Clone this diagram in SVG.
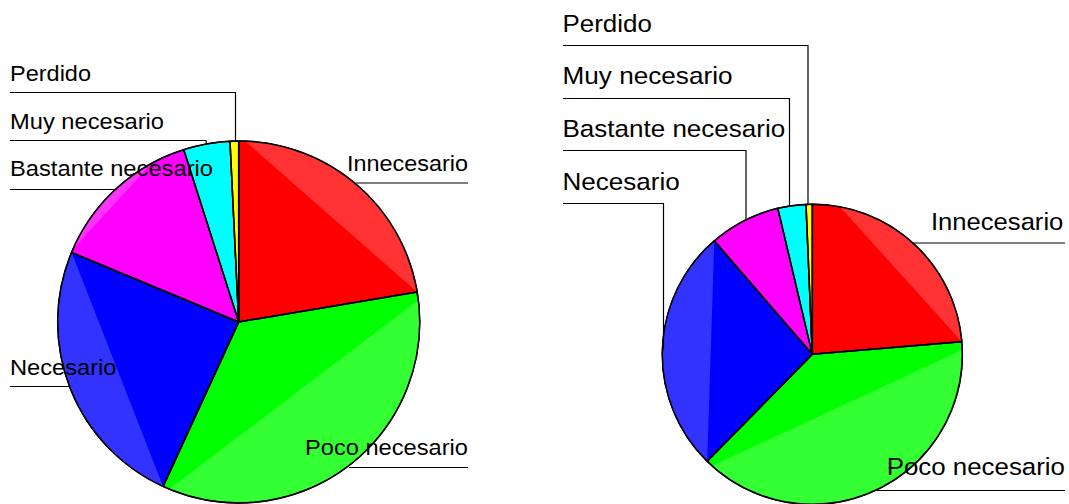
<svg xmlns="http://www.w3.org/2000/svg" width="1069" height="504" viewBox="0 0 1069 504">
<style>
.sl{stroke:#000;stroke-width:1.5;stroke-linejoin:round}
.seg{stroke:none}
.lbl{font-family:"Liberation Sans",Arial,sans-serif;font-size:22.5px;fill:#000}
.lbr{font-family:"Liberation Sans",Arial,sans-serif;font-size:24.8px;fill:#000}
.ld{fill:none;stroke:#000;stroke-width:1.2}
.rim{fill:none;stroke:#000;stroke-width:1.5}
</style>
<rect width="1069" height="504" fill="#fff"/>
<g id="pie-left">
  <g id="L-innecesario">
    <path class="sl" fill="#ff0000" d="M238.7,322 L238.7,141 A181,181 0 0 1 417.2,292.1 Z"/>
    <path class="seg" fill="#ff3333" d="M245,141.1 A181,181 0 0 1 417.2,292.1 Z"/>
  </g>
  <g id="L-poco">
    <path class="sl" fill="#00ff00" d="M238.7,322 L417.2,292.1 A181,181 0 0 1 163.1,486.4 Z"/>
    <path class="seg" fill="#33ff33" d="M418.5,300 A181,181 0 0 1 170,488.5 Z"/>
  </g>
  <g id="L-necesario">
    <path class="sl" fill="#0000ff" d="M238.7,322 L163.1,486.4 A181,181 0 0 1 71.6,252.4 Z"/>
    <path class="seg" fill="#3333ff" d="M163.1,486.4 A181,181 0 0 1 71.6,252.4 Z"/>
  </g>
  <g id="L-bastante">
    <path class="sl" fill="#ff00ff" d="M238.7,322 L71.6,252.4 A181,181 0 0 1 183.7,149.6 Z"/>
    <path class="seg" fill="#ff33ff" d="M73,249 A181,181 0 0 1 150,165 Z"/>
  </g>
  <g id="L-muy">
    <path class="sl" fill="#00ffff" d="M238.7,322 L183.7,149.6 A181,181 0 0 1 230,141.2 Z"/>
  </g>
  <g id="L-perdido">
    <path class="sl" fill="#ffff00" d="M238.7,322 L230,141.2 A181,181 0 0 1 238.7,141 Z"/>
  </g>
  <circle class="rim" cx="238.7" cy="322" r="181"/>
  <path class="sl" fill="none" d="M238.7,141 L238.7,322 L417.2,292.1 M238.7,322 L163.1,486.4 M238.7,322 L71.6,252.4 M238.7,322 L183.7,149.6 M238.7,322 L230,141.2"/>
</g>
<g id="pie-right">
  <g id="R-innecesario">
    <path class="sl" fill="#ff0000" d="M812.3,354.3 L812.3,204.3 A150,150 0 0 1 961.8,341.7 Z"/>
    <path class="seg" fill="#ff3333" d="M840,206.9 A150,150 0 0 1 961.8,341.7 Z"/>
  </g>
  <g id="R-poco">
    <path class="sl" fill="#00ff00" d="M812.3,354.3 L961.8,341.7 A150,150 0 0 1 707.2,461.3 Z"/>
    <path class="seg" fill="#33ff33" d="M962,350 A150,150 0 0 1 712,466 Z"/>
  </g>
  <g id="R-necesario">
    <path class="sl" fill="#0000ff" d="M812.3,354.3 L707.2,461.3 A150,150 0 0 1 714.3,240.8 Z"/>
    <path class="seg" fill="#3333ff" d="M707.2,461.3 A150,150 0 0 1 714.3,240.8 Z"/>
  </g>
  <g id="R-bastante">
    <path class="sl" fill="#ff00ff" d="M812.3,354.3 L714.3,240.8 A150,150 0 0 1 777.8,208.3 Z"/>
  </g>
  <g id="R-muy">
    <path class="sl" fill="#00ffff" d="M812.3,354.3 L777.8,208.3 A150,150 0 0 1 806,204.4 Z"/>
  </g>
  <g id="R-perdido">
    <path class="sl" fill="#ffff00" d="M812.3,354.3 L806,204.4 A150,150 0 0 1 812.3,204.3 Z"/>
  </g>
  <circle class="rim" cx="812.3" cy="354.3" r="150"/>
  <path class="sl" fill="none" d="M812.3,204.3 L812.3,354.3 L961.8,341.7 M812.3,354.3 L707.2,461.3 M812.3,354.3 L714.3,240.8 M812.3,354.3 L777.8,208.3 M812.3,354.3 L806,204.4"/>
</g>
<g id="connectors">
  <polyline class="ld" points="10,92.5 235.5,92.5 235.5,141"/>
  <polyline class="ld" points="10,140.5 206,140.5 206.5,144"/>
  <polyline class="ld" points="10,189.5 116.5,189.5"/>
  <polyline class="ld" points="10,386.5 70,386.5"/>
  <polyline class="ld" points="356,183 468,183"/>
  <polyline class="ld" points="349,467.5 468,467.5"/>
  <polyline class="ld" points="563,45.5 808,45.5 808,204.5"/>
  <polyline class="ld" points="563,98.5 789.5,98.5 789.5,206"/>
  <polyline class="ld" points="563,150.5 746,150.5 746,220"/>
  <polyline class="ld" points="563,203.5 663.5,203.5 663.5,349"/>
  <polyline class="ld" points="913.5,243 1065,243"/>
  <polyline class="ld" points="877,490.5 1065,490.5"/>
</g>
<g id="labels-left">
  <g id="lbl-L-perdido"><text class="lbl" x="10" y="81" textLength="81" lengthAdjust="spacingAndGlyphs">Perdido</text></g>
  <g id="lbl-L-muy"><text class="lbl" x="10" y="129" textLength="154" lengthAdjust="spacingAndGlyphs">Muy necesario</text></g>
  <g id="lbl-L-bastante"><text class="lbl" x="10" y="175.5" textLength="203" lengthAdjust="spacingAndGlyphs">Bastante necesario</text></g>
  <g id="lbl-L-necesario"><text class="lbl" x="10" y="375" textLength="106.5" lengthAdjust="spacingAndGlyphs">Necesario</text></g>
  <g id="lbl-L-innecesario"><text class="lbl" x="347" y="170.5" textLength="121" lengthAdjust="spacingAndGlyphs">Innecesario</text></g>
  <g id="lbl-L-poco"><text class="lbl" x="305" y="455" textLength="163" lengthAdjust="spacingAndGlyphs">Poco necesario</text></g>
</g>
<g id="labels-right">
  <g id="lbl-R-perdido"><text class="lbr" x="562.5" y="31.5" textLength="89.3" lengthAdjust="spacingAndGlyphs">Perdido</text></g>
  <g id="lbl-R-muy"><text class="lbr" x="562.5" y="84" textLength="170" lengthAdjust="spacingAndGlyphs">Muy necesario</text></g>
  <g id="lbl-R-bastante"><text class="lbr" x="562.5" y="136.5" textLength="222.7" lengthAdjust="spacingAndGlyphs">Bastante necesario</text></g>
  <g id="lbl-R-necesario"><text class="lbr" x="562.5" y="189.5" textLength="117.3" lengthAdjust="spacingAndGlyphs">Necesario</text></g>
  <g id="lbl-R-innecesario"><text class="lbr" x="931" y="230" textLength="132.3" lengthAdjust="spacingAndGlyphs">Innecesario</text></g>
  <g id="lbl-R-poco"><text class="lbr" x="886.7" y="475" textLength="178.3" lengthAdjust="spacingAndGlyphs">Poco necesario</text></g>
</g>
</svg>
